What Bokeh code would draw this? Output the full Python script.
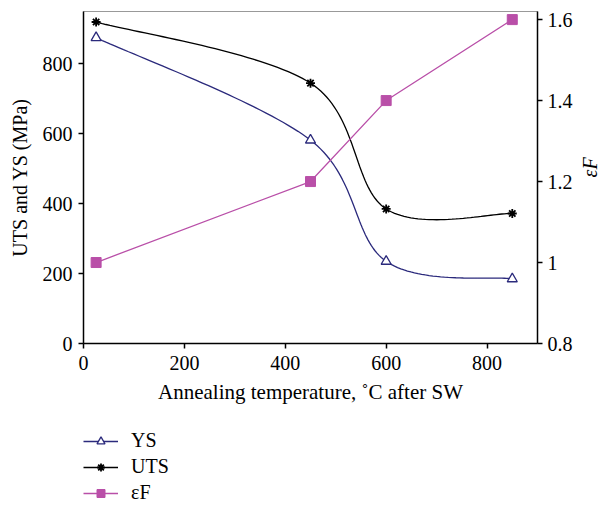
import math
import numpy as np
from bokeh.plotting import figure
from bokeh.layouts import column
from bokeh.models import (Range1d, LinearAxis, FixedTicker, Legend, LegendItem)
from bokeh.embed import file_html
from bokeh.resources import INLINE

# ---- data ----
temperature = [25, 450, 600, 850]
ys = [875, 582, 235, 185]
uts = [920, 745, 385, 372]
eps_f = [1.0, 1.2, 1.4, 1.6]

x_ticks = [0, 200, 400, 600, 800]
left_ticks = [0, 200, 400, 600, 800]
right_ticks = [0.8, 1.0, 1.2, 1.4, 1.6]
right_tick_labels = ["0.8", "1", "1.2", "1.4", "1.6"]
series_names = ["YS", "UTS", "εF"]

FONT = "Liberation Serif"
FS = "20px"
NAVY = "#2b2a7c"
MAGENTA = "#b94fa8"


def smooth(xs, ys_, n=40):
    """Catmull-Rom style smoothed curve (like spreadsheet smoothed lines)."""
    P = np.column_stack([xs, ys_]).astype(float)
    out = []
    m = len(P)
    for i in range(m - 1):
        p0 = P[i - 1] if i > 0 else P[i]
        p1 = P[i]
        p2 = P[i + 1]
        p3 = P[i + 2] if i + 2 < m else P[i + 1]
        c1 = p1 + (p2 - p0) / 6.0
        c2 = p2 - (p3 - p1) / 6.0
        t = np.linspace(0, 1, n)[:, None]
        seg = ((1 - t) ** 3) * p1 + 3 * ((1 - t) ** 2) * t * c1 + 3 * (1 - t) * t ** 2 * c2 + t ** 3 * p2
        if i > 0:
            seg = seg[1:]
        out.append(seg)
    c = np.vstack(out)
    return c[:, 0], c[:, 1]


STYLES = {
    "YS": dict(line=dict(line_color=NAVY, line_width=1.3),
               marker=dict(marker="triangle", size=10, line_color=NAVY,
                           fill_color="white", line_width=1.3)),
    "UTS": dict(line=dict(line_color="black", line_width=1.3),
                marker=dict(marker="asterisk", size=9, line_color="black", line_width=1.8)),
    "εF": dict(line=dict(line_color=MAGENTA, line_width=1.3),
               marker=dict(marker="square", size=10, line_color=MAGENTA, fill_color=MAGENTA)),
}
SERIES_Y = {"YS": ys, "UTS": uts, "εF": eps_f}

p = figure(frame_width=454, frame_height=332, output_backend="svg", toolbar_location=None,
           x_range=Range1d(0, 900), y_range=Range1d(0, 950),
           min_border_left=83, min_border_right=62, min_border_top=11, min_border_bottom=80)
p.extra_y_ranges = {"eps": Range1d(0.8, 1.62)}

p.grid.visible = False
p.outline_line_color = "#999999"
p.outline_line_width = 1
p.background_fill_color = "white"
p.border_fill_color = "white"


def style_axis(ax):
    ax.axis_line_color = "black"
    ax.axis_line_width = 1.5
    ax.major_tick_line_color = "black"
    ax.major_tick_line_width = 1.5
    ax.major_tick_out = 5
    ax.major_tick_in = 0
    ax.minor_tick_line_color = None
    ax.major_label_text_font = FONT
    ax.major_label_text_font_size = FS
    ax.major_label_text_color = "black"
    ax.axis_label_text_font = FONT
    ax.axis_label_text_font_size = FS
    ax.axis_label_text_font_style = "normal"
    ax.axis_label_text_color = "black"


style_axis(p.xaxis[0])
style_axis(p.yaxis[0])
p.xaxis.ticker = FixedTicker(ticks=x_ticks)
p.yaxis.ticker = FixedTicker(ticks=left_ticks)
p.xaxis.axis_label = "Annealing temperature, ˚C after SW"
p.xaxis.axis_label_text_font_size = "21px"
p.yaxis.axis_label = "UTS and YS (MPa)"
p.xaxis.major_label_standoff = 7
p.xaxis.axis_label_standoff = 7
p.yaxis.major_label_standoff = 6
p.yaxis.axis_label_standoff = 9

ax2 = LinearAxis(y_range_name="eps", ticker=FixedTicker(ticks=right_ticks),
                 axis_label="εF")
ax2.major_label_overrides = {t: l for t, l in zip(right_ticks, right_tick_labels)}
style_axis(ax2)
ax2.axis_label_text_font_style = "italic"
ax2.axis_label_orientation = math.pi / 2
ax2.major_label_standoff = 5
ax2.axis_label_standoff = 14
p.add_layout(ax2, "right")

# series
xs_ys, yy_ys = smooth(temperature, ys)
xs_uts, yy_uts = smooth(temperature, uts)

p.line(xs_ys, yy_ys, **STYLES["YS"]["line"])
p.scatter(temperature, ys, **STYLES["YS"]["marker"])
p.line(xs_uts, yy_uts, **STYLES["UTS"]["line"])
p.scatter(temperature, uts, **STYLES["UTS"]["marker"])
p.line(temperature, eps_f, y_range_name="eps", **STYLES["εF"]["line"])
p.scatter(temperature, eps_f, y_range_name="eps", **STYLES["εF"]["marker"])

# legend panel below the chart (proxy renderers with the same styles, out of view)
p2 = figure(width=599, height=82, output_backend="svg", toolbar_location=None,
            x_axis_type=None, y_axis_type=None,
            x_range=Range1d(-2000, -1000), y_range=Range1d(-2000, -1000),
            min_border_left=83, min_border_right=0, min_border_top=6, min_border_bottom=0)
p2.grid.visible = False
p2.outline_line_color = None
p2.border_fill_color = "white"
items = []
for name in series_names:
    lr = p2.line(temperature, SERIES_Y[name], **STYLES[name]["line"])
    mr = p2.scatter(temperature, SERIES_Y[name], **STYLES[name]["marker"])
    items.append(LegendItem(label=name, renderers=[lr, mr]))

legend = Legend(items=items, location="top_left", orientation="vertical")
legend.border_line_color = None
legend.background_fill_alpha = 0
legend.label_text_font = FONT
legend.label_text_font_size = FS
legend.label_text_color = "black"
legend.glyph_width = 35
legend.glyph_height = 20
legend.label_height = 20
legend.label_standoff = 13
legend.spacing = 3
legend.padding = 0
legend.margin = 0
p2.add_layout(legend, "center")

layout = column(p, p2, spacing=0)
open("out.html", "w").write(file_html(layout, INLINE))
